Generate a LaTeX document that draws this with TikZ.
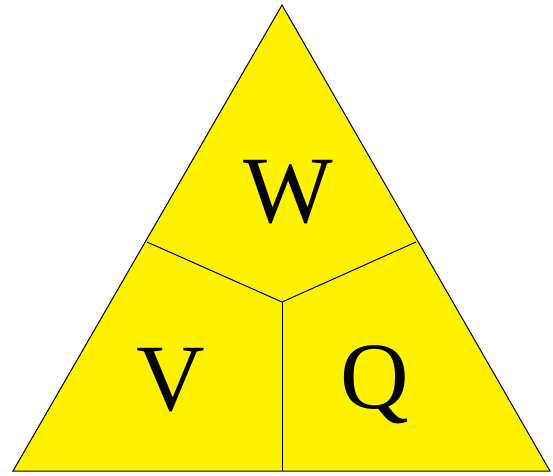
\documentclass[tikz,border=0pt]{standalone}
\usepackage{fontspec}
\setmainfont{Liberation Serif}

\tikzset{
  trifill/.style={fill=yellow, draw=black, line width=1pt, line join=miter},
  trisplit/.style={line width=1pt},
  trilabel/.style={anchor=base, inner sep=0pt, font=\fontsize{95}{95}\selectfont}
}

\begin{document}
\begin{tikzpicture}[x=1pt, y=-1pt]
\useasboundingbox (0,0) rectangle (553,475);

\coordinate (top) at (282,5);
\coordinate (bl) at (13,471);
\coordinate (br) at (550,471);
\coordinate (mid) at (282,302);
\coordinate (ls) at (147,242);
\coordinate (rs) at (416,242);
\coordinate (bm) at (282,471);

\draw[trifill] (top) -- (br) -- (bl) -- cycle;

\draw[trisplit] (ls) -- (mid) -- (rs);
\draw[trisplit] (mid) -- (bm);

\node[trilabel] (w) at (288,222) {W};
\node[trilabel] (v) at (171,410) {V};
\node[trilabel] (q) at (375,408) {Q};
\end{tikzpicture}
\end{document}
